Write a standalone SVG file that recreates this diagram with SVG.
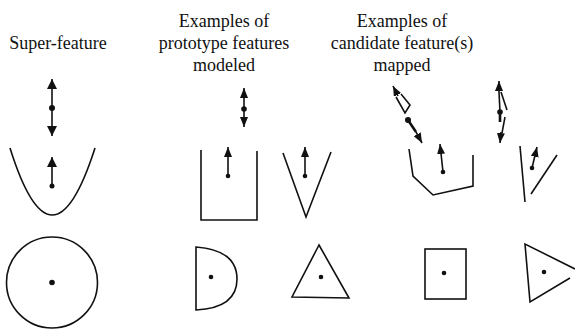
<svg xmlns="http://www.w3.org/2000/svg" width="575" height="334" viewBox="0 0 575 334">
<style>
text{font-family:"Liberation Serif","Times New Roman",serif;font-size:18px;fill:#111;text-anchor:middle}
.s{fill:none;stroke:#111;stroke-width:1.6;stroke-linejoin:miter}
.a{fill:none;stroke:#111;stroke-width:1.6}
.t{stroke-width:2.6}
.d{fill:#111}
</style>
<defs>
<marker id="ah" viewBox="0 0 10 10" refX="10" refY="5" markerWidth="11" markerHeight="10" markerUnits="userSpaceOnUse" orient="auto-start-reverse"><path d="M0,0 L10,5 L0,10 z" fill="#111"/></marker>
<marker id="ahs" viewBox="0 0 10 8" refX="10" refY="4" markerWidth="10" markerHeight="8" markerUnits="userSpaceOnUse" orient="auto-start-reverse"><path d="M0,0 L10,4 L0,8 z" fill="#111"/></marker>
</defs>
<g id="labels">
<text x="58" y="49">Super-feature</text>
<text x="224" y="27">Examples of</text>
<text x="224" y="49">prototype features</text>
<text x="224" y="71">modeled</text>
<text x="402" y="27">Examples of</text>
<text x="402" y="49">candidate feature(s)</text>
<text x="402" y="71">mapped</text>
</g>
<g id="super-parabola">
<path class="s" d="M10,148 Q52,282 95,148"/>
<circle class="d" cx="52" cy="186" r="2.5"/>
</g>
<g id="super-circle">
<circle class="s" cx="52" cy="282.5" r="45.5"/>
<circle class="d" cx="52" cy="282.5" r="2.8"/>
</g>
<g id="proto-u">
<polyline class="s" points="201,150 201,220 257,220 257,151"/>
<circle class="d" cx="228" cy="176" r="2.3"/>
</g>
<g id="proto-v">
<polyline class="s" points="283,153 306,217 331,152"/>
<circle class="d" cx="305" cy="176" r="2.3"/>
</g>
<g id="proto-d">
<path class="s" d="M196,310 L196,247 Q237,250 237,279 Q237,308 196,310 Z"/>
<circle class="d" cx="211" cy="277" r="2.3"/>
</g>
<g id="proto-triangle">
<polygon class="s" points="319,245 292,297 349,298"/>
<circle class="d" cx="321" cy="277" r="2.3"/>
</g>
<g id="cand-poly">
<polyline class="s" points="409,149 413,176 433,195 473,186 473,155"/>
<circle class="d" cx="443" cy="172" r="2.3"/>
</g>
<g id="cand-lines">
<line class="s" x1="520" y1="146" x2="525" y2="202"/>
<line class="s" x1="531" y1="194" x2="557" y2="155"/>
<circle class="d" cx="532" cy="168" r="2.3"/>
</g>
<g id="cand-rect">
<rect class="s" x="425" y="249" width="41" height="50"/>
<circle class="d" cx="444" cy="273" r="2.3"/>
</g>
<g id="cand-triangle">
<polyline class="s" points="570,278 530,302 525,244 575,269"/>
<circle class="d" cx="544" cy="272" r="2.3"/>
</g>
<g id="connectors">
<line class="a" x1="52" y1="79" x2="52" y2="136" marker-start="url(#ah)" marker-end="url(#ah)"/>
<circle class="d" cx="52" cy="108" r="3"/>
<line class="a" x1="52" y1="186" x2="52" y2="157" marker-end="url(#ah)"/>
<line class="a" x1="244" y1="88" x2="244" y2="127" marker-start="url(#ahs)" marker-end="url(#ahs)"/>
<circle class="d" cx="244" cy="109" r="2.8"/>
<line class="a" x1="228" y1="176" x2="228" y2="147" marker-end="url(#ahs)"/>
<line class="a" x1="305" y1="176" x2="305" y2="147" marker-end="url(#ahs)"/>
<line class="a" x1="443" y1="172" x2="440" y2="144" marker-end="url(#ahs)"/>
<line class="a" x1="532" y1="168" x2="537" y2="147" marker-end="url(#ahs)"/>
<line class="a" x1="398" y1="96" x2="393" y2="86" marker-end="url(#ahs)"/>
<polyline class="a" points="396,97 405,113 410,105 401,94"/>
<line class="a t" x1="408" y1="120" x2="416" y2="132"/>
<line class="a" x1="416" y1="132" x2="422" y2="143" marker-end="url(#ahs)"/>
<circle class="d" cx="408" cy="120" r="3"/>
<line class="a" x1="499" y1="92" x2="499" y2="81" marker-end="url(#ahs)"/>
<line class="a" x1="499" y1="92" x2="500" y2="112"/>
<line class="a" x1="501" y1="92" x2="507" y2="110"/>
<circle class="d" cx="500" cy="112" r="2.8"/>
<line class="a t" x1="500" y1="112" x2="500" y2="122"/>
<line class="a" x1="505" y1="117" x2="502" y2="133"/>
<line class="a" x1="501" y1="132" x2="500" y2="143" marker-end="url(#ahs)"/>
</g>
</svg>
